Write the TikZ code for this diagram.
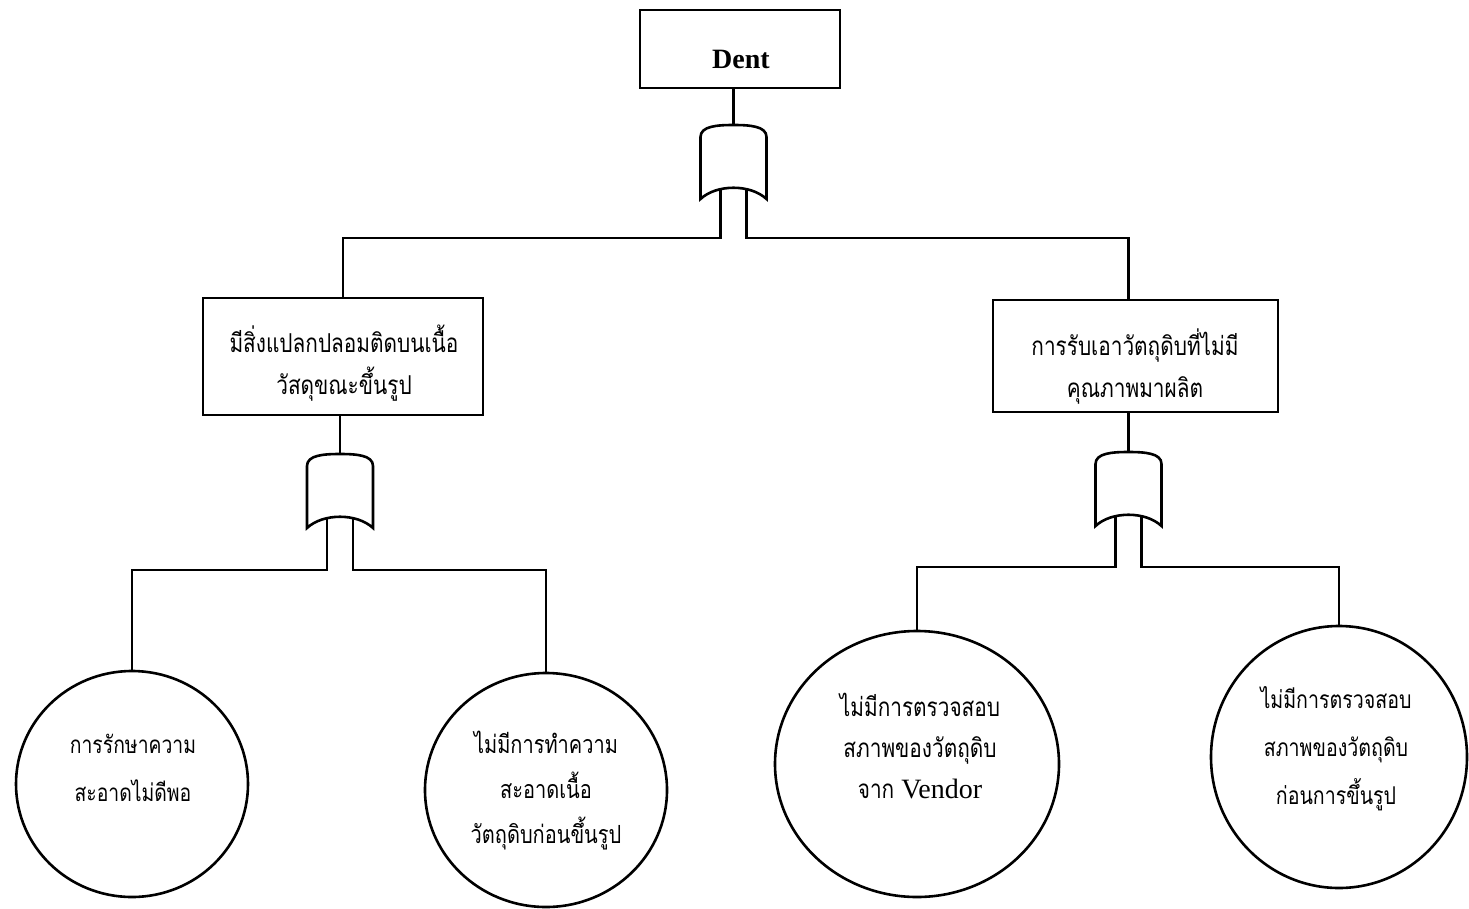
\documentclass[tikz,border=0pt]{standalone}
\usepackage{fontspec}
\setmainfont{Liberation Serif}
\newfontfamily\thaifont[Script=Thai, FakeStretch=0.8]{Loma}
\usetikzlibrary{shapes.geometric}

\tikzset{
  wire/.style={line width=2.6pt, line join=miter},
  eventbox/.style={draw, line width=2.6pt, rectangle, inner sep=0pt},
  basic/.style={draw, line width=2.6pt, ellipse, inner sep=0pt},
  label text/.style={inner sep=0pt, align=center},
  orgate/.pic={
    \draw[wire, fill=white]
      (-33,12) .. controls (-33,1) and (-16,0) .. (0,0)
      .. controls (16,0) and (33,1) .. (33,12)
      -- (33,74) .. controls (17,59) and (-17,59) .. (-33,74) -- cycle;
    \coordinate (-in) at (0,0);
    \coordinate (-a) at (-13,63);
    \coordinate (-b) at (13,63);
  }
}
\newcommand{\thaisize}[2]{\thaifont\fontsize{#1}{#2}\selectfont}

\begin{document}
\begin{tikzpicture}[x=1pt, y=-1pt]
  \useasboundingbox (0,0) rectangle (1469,908);

  % top event
  \node[eventbox, minimum width=200pt, minimum height=78pt] (top) at (740,49) {};
  \node[label text, font=\fontsize{28}{32}\selectfont\bfseries] (topTxt)
    at (741,59) {Dent};

  % intermediate events
  \node[eventbox, minimum width=280pt, minimum height=117pt] (boxL) at (343,356.5) {};
  \node[label text, font=\thaisize{26}{42}] (boxLTxt) at (344,363)
    {มีสิ่งแปลกปลอมติดบนเนื้อ\\วัสดุขณะขึ้นรูป};
  \node[eventbox, minimum width=285pt, minimum height=112pt] (boxR) at (1135.5,356) {};
  \node[label text, font=\thaisize{26}{42}] (boxRTxt) at (1135,367)
    {การรับเอาวัตถุดิบที่ไม่มี\\คุณภาพมาผลิต};

  % basic events
  \node[basic, minimum width=232pt, minimum height=226pt] (c1) at (132,784) {};
  \node[label text, font=\thaisize{24.2}{48}] (c1Txt) at (133,768)
    {การรักษาความ\\สะอาดไม่ดีพอ};
  \node[basic, minimum width=242pt, minimum height=234pt] (c2) at (546,790) {};
  \node[label text, font=\thaisize{25}{45}] (c2Txt) at (546,791)
    {ไม่มีการทำความ\\สะอาดเนื้อ\\วัตถุดิบก่อนขึ้นรูป};
  \node[basic, minimum width=284pt, minimum height=266pt] (c3) at (917,764) {};
  \node[label text, font=\thaisize{26}{41}] (c3Txt) at (920,746)
    {ไม่มีการตรวจสอบ\\สภาพของวัตถุดิบ\\จาก {\rmfamily\fontsize{28}{41}\selectfont Vendor}};
  \node[basic, minimum width=256pt, minimum height=262pt] (c4) at (1339,757) {};
  \node[label text, font=\thaisize{24.5}{48}] (c4Txt) at (1336,749)
    {ไม่มีการตรวจสอบ\\สภาพของวัตถุดิบ\\ก่อนการขึ้นรูป};

  % OR gates
  \pic (g0) at (733.5,125) {orgate};
  \pic (g1) at (340,454) {orgate};
  \pic (g2) at (1128.5,452) {orgate};

  % bus levels and drop points
  \coordinate (bus0) at (0,238);
  \coordinate (bus1) at (0,570);
  \coordinate (bus2) at (0,567);
  \coordinate (rTop) at (boxR.north -| g2-in);
  \coordinate (rBot) at (boxR.south -| g2-in);

  % connectors
  \draw[wire] (top.south -| g0-in) -- (g0-in);
  \draw[wire] (g0-a) |- (boxL.north |- bus0) -- (boxL.north);
  \draw[wire] (g0-b) |- (rTop |- bus0) -- (rTop);

  \draw[wire] (boxL.south -| g1-in) -- (g1-in);
  \draw[wire] (g1-a) |- (c1.north |- bus1) -- (c1.north);
  \draw[wire] (g1-b) |- (c2.north |- bus1) -- (c2.north);

  \draw[wire] (rBot) -- (g2-in);
  \draw[wire] (g2-a) |- (c3.north |- bus2) -- (c3.north);
  \draw[wire] (g2-b) |- (c4.north |- bus2) -- (c4.north);
\end{tikzpicture}
\end{document}
